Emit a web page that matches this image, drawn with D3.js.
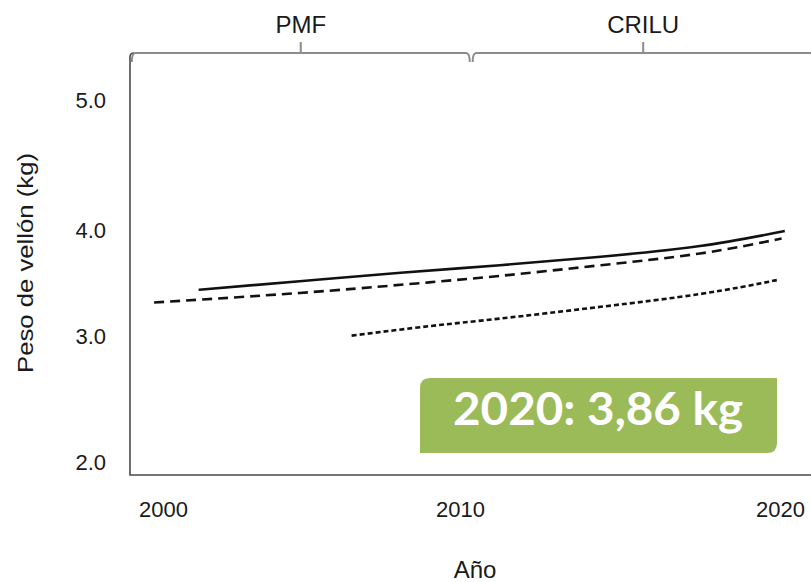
<!DOCTYPE html>
<html lang="es">
<head>
<meta charset="utf-8">
<title>Peso de vellón</title>
<script src="https://cdn.jsdelivr.net/npm/d3@7"></script>
<style>
  body { margin: 0; background: #fff; }
  svg { display: block; font-family: "Liberation Sans", Arial, sans-serif; }
  .tick text { fill: #1a1a1a; font-size: 22px; }
  .title { fill: #1a1a1a; }
  .axis-line { stroke: #4a4a4a; stroke-width: 1.6; fill: none; }
  .bracket { stroke: #8c8c8c; stroke-width: 2; fill: none; }
  .serie { fill: none; stroke: #111; stroke-width: 2.6; }
</style>
</head>
<body>
<div id="chart"></div>
<script>
// ticks as printed on the figure
const xTicks = [2000, 2010, 2020]
const yTicks = [2, 3, 4, 5]

// three fitted curves, [year, kg]
const serieSolida = [[2001.2, 3.44], [2004.6, 3.52], [2008.0, 3.60], [2011.25, 3.67], [2014.4, 3.75], [2017.5, 3.85], [2020.15, 3.99]]
const serieGuion = [[1999.7, 3.32], [2004.6, 3.41], [2008.15, 3.49], [2011.25, 3.57], [2014.4, 3.67], [2017.5, 3.78], [2020.05, 3.92]]
const seriePunto = [[2006.35, 3.01], [2009.0, 3.10], [2011.25, 3.17], [2014.4, 3.28], [2017.5, 3.40], [2019.9, 3.53]]

// periods shown over the plot
const periodos = ["PMF", "CRILU"]
const periodoInicio = [1998.9, 2010.35]
const periodoFin = [2010.35, 2021.1]

const anotacionAnio = 2020
const anotacionValor = 3.86

const width = 811, height = 582
const axisX = 130, axisY = 475, topY = 53

// the printed ticks are not evenly spaced, so the scales are piecewise
const x = d3.scaleLinear().domain(xTicks).range([163, 460, 780])
const y = d3.scaleLinear().domain(yTicks).range([462.5, 336.7, 230, 100.8])

const svg = d3.select("#chart").append("svg")
    .attr("width", width)
    .attr("height", height)

// axes (labels only, no tick marks)
svg.append("g")
    .attr("transform", "translate(0," + axisY + ")")
    .call(d3.axisBottom(x).tickValues(xTicks).tickSize(0).tickPadding(26).tickFormat(d3.format("d")))
    .call(g => g.select(".domain").remove())

svg.append("g")
    .attr("transform", "translate(" + axisX + ",0)")
    .call(d3.axisLeft(y).tickValues(yTicks).tickSize(0).tickPadding(24).tickFormat(d3.format(".1f")))
    .call(g => g.select(".domain").remove())

svg.append("path")
    .attr("class", "axis-line")
    .attr("d", "M" + width + "," + axisY + "H" + axisX + "V" + (topY + 4) + "Q" + axisX + "," + topY + " " + (axisX + 4) + "," + topY)

// period brackets
periodos.forEach((p, i) => {
    const x0 = x(periodoInicio[i]), x1 = x(periodoFin[i]), xm = (x0 + x1) / 2
    svg.append("path")
        .attr("class", "bracket")
        .attr("d", "M" + (x0 + 1.5) + "," + (topY + 9) + "Q" + (x0 + 1.5) + "," + topY + " " + (x0 + 5) + "," + topY
            + "H" + (x1 - 5) + "Q" + (x1 - 1.5) + "," + topY + " " + (x1 - 1.5) + "," + (topY + 9)
            + "M" + xm + "," + topY + "V" + (topY - 11))
    svg.append("text")
        .attr("class", "title")
        .attr("x", xm)
        .attr("y", 32.5)
        .attr("text-anchor", "middle")
        .style("font-size", "24px")
        .text(p)
})

// curves
const line = d3.line()
    .x(d => x(d[0]))
    .y(d => y(d[1]))
    .curve(d3.curveNatural)

svg.append("path").attr("class", "serie").attr("d", line(serieSolida))
svg.append("path").attr("class", "serie").attr("d", line(serieGuion)).attr("stroke-dasharray", "10,6")
svg.append("path").attr("class", "serie").attr("d", line(seriePunto)).attr("stroke-dasharray", "5,3")

// axis titles
svg.append("text")
    .attr("class", "title")
    .attr("x", 475)
    .attr("y", 578)
    .attr("text-anchor", "middle")
    .style("font-size", "24px")
    .text("Año")

svg.append("text")
    .attr("class", "title")
    .attr("transform", "translate(33,263) rotate(-90)")
    .attr("text-anchor", "middle")
    .attr("textLength", 220)
    .attr("lengthAdjust", "spacingAndGlyphs")
    .style("font-size", "22px")
    .text("Peso de vellón (kg)")

// green callout, rounded on two opposite corners
const bx0 = 420, bx1 = 777, by0 = 378, by1 = 453, r = 10
svg.append("path")
    .attr("fill", "#9bbb59")
    .attr("d", "M" + (bx0 + r) + "," + by0 + "H" + bx1 + "V" + (by1 - r)
        + "Q" + bx1 + "," + by1 + " " + (bx1 - r) + "," + by1 + "H" + bx0 + "V" + (by0 + r)
        + "Q" + bx0 + "," + by0 + " " + (bx0 + r) + "," + by0 + "Z")

svg.append("text")
    .attr("x", 598)
    .attr("y", 425)
    .attr("text-anchor", "middle")
    .attr("textLength", 290)
    .attr("lengthAdjust", "spacingAndGlyphs")
    .style("font-family", "Lato, 'Open Sans', sans-serif")
    .style("font-weight", "bold")
    .style("font-size", "46px")
    .attr("fill", "#fff")
    .text(anotacionAnio + ": " + d3.format(".2f")(anotacionValor).replace(".", ",") + " kg")
</script>
</body>
</html>
